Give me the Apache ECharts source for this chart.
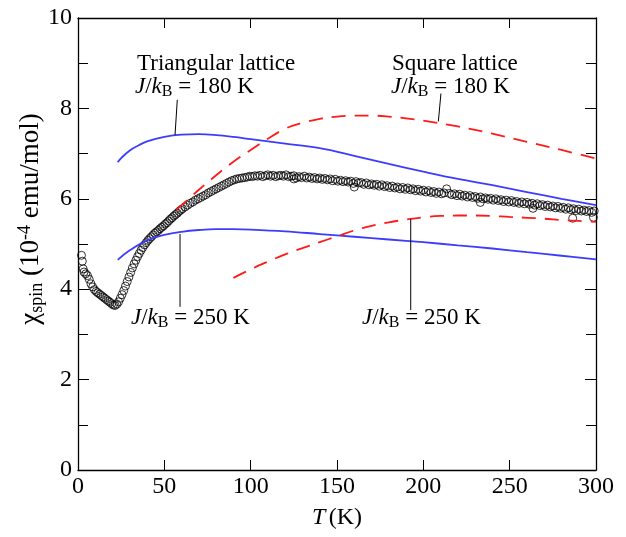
<!DOCTYPE html>
<html><head><meta charset="utf-8">
<script src="https://cdn.jsdelivr.net/npm/echarts@6/dist/echarts.min.js"></script>
<style>html,body{margin:0;padding:0;background:#fff}#c{width:626px;height:537px}</style>
</head><body><div id="c"></div>
<script>
const xTicks = [0, 50, 100, 150, 200, 250, 300];
const yTicks = [0, 2, 4, 6, 8, 10];
// measured chi_spin (T, chi)
const measured = [
[2,4.75],[2.5,4.62],[3,4.45],[3.5,4.38],[4.5,4.34],[5.5,4.3],[6.5,4.22],[7.5,4.12],[8.5,4.05],[9.5,3.99],[10.5,3.95],[11.5,3.92],[12.5,3.89],[13.5,3.86],[14.5,3.83],[15.5,3.8],[16.5,3.77],[17.5,3.74],[18.5,3.71],[19.5,3.68],[20.5,3.65],[21.5,3.64],[22.5,3.67],[23.5,3.72],[24.5,3.8],[25.5,3.88],[26.5,3.97],[27.5,4.07],[28.5,4.17],[29.5,4.27],[30.5,4.37],[31.5,4.47],[32.5,4.56],[33.5,4.64],[34.5,4.72],[35.5,4.79],[36.5,4.86],[37.5,4.92],[38.5,4.98],[39.5,5.03],[40.5,5.08],[41.5,5.12],[42.5,5.16],[43.5,5.2],[44.5,5.24],[45.5,5.27],[46.5,5.3],[47.5,5.34],[48.5,5.37],[49.5,5.4],[50.5,5.44],[51.5,5.47],[52.5,5.51],[53.5,5.55],[54.5,5.58],[55.5,5.62],[56.5,5.65],[57.5,5.68],[58.5,5.72],[59.5,5.75],[60.5,5.78],[62,5.82],[63.5,5.86],[65,5.9],[66.5,5.93],[68,5.97],[69.5,6.0],[71,6.03],[72.5,6.06],[74,6.09],[75.5,6.13],[77,6.16],[78.5,6.19],[80,6.22],[81.5,6.25],[83,6.28],[84.5,6.31],[86,6.34],[87.5,6.37],[89,6.4],[90.5,6.42],[92,6.44],[93.5,6.45],[95,6.46],[96.5,6.47],[98,6.48],[99.5,6.5],[101,6.49],[102.5,6.51],[104,6.5],[105.5,6.52],[107,6.49],[108.5,6.51],[110,6.53],[111.5,6.5],[113,6.52],[114.5,6.49],[116,6.51],[117.5,6.52],[119,6.5],[120.5,6.53],[122,6.49],[123.5,6.5],[125,6.51],[126.5,6.46],[128,6.49],[129.5,6.47],[131,6.5],[132.5,6.46],[134,6.48],[135.5,6.45],[137,6.47],[138.5,6.44],[140,6.46],[141.5,6.43],[143,6.45],[144.5,6.42],[146,6.44],[147.5,6.4],[149,6.43],[150.5,6.39],[152,6.41],[153.5,6.38],[155,6.4],[156.5,6.37],[158,6.39],[159.5,6.34],[161,6.38],[162.5,6.35],[164,6.36],[165.5,6.32],[167,6.35],[168.5,6.31],[170,6.33],[171.5,6.3],[173,6.32],[174.5,6.28],[176,6.31],[177.5,6.27],[179,6.29],[180.5,6.25],[182,6.28],[183.5,6.24],[185,6.26],[186.5,6.22],[188,6.25],[189.5,6.21],[191,6.24],[192.5,6.2],[194,6.22],[195.5,6.18],[197,6.21],[198.5,6.17],[200,6.19],[201.5,6.15],[203,6.18],[204.5,6.14],[206,6.16],[207.5,6.12],[209,6.15],[210.5,6.11],[212,6.13],[213.5,6.22],[215,6.12],[216.5,6.09],[218,6.11],[219.5,6.07],[221,6.1],[222.5,6.06],[224,6.08],[225.5,6.04],[227,6.07],[228.5,6.03],[230,6.05],[231.5,6.01],[233,6.04],[234.5,6.0],[236,6.02],[237.5,5.99],[239,6.01],[240.5,5.97],[242,6.0],[243.5,5.96],[245,5.98],[246.5,5.94],[248,5.97],[249.5,5.93],[251,5.96],[252.5,5.92],[254,5.94],[255.5,5.9],[257,5.93],[258.5,5.89],[260,5.92],[261.5,5.88],[263,5.9],[264.5,5.86],[266,5.89],[267.5,5.85],[269,5.87],[270.5,5.83],[272,5.86],[273.5,5.82],[275,5.84],[276.5,5.8],[278,5.83],[279.5,5.79],[281,5.81],[282.5,5.77],[284,5.8],[285.5,5.76],[287,5.78],[288.5,5.74],[290,5.77],[291.5,5.73],[293,5.75],[294.5,5.72],[296,5.74],[297.5,5.7],[299,5.73],
[233,5.92],[286.5,5.57],[298.5,5.59],[160,6.26],[125,6.44],[263.5,5.79]
];
// triangular lattice, J/kB = 180 K
const tri180 = [[23,6.81],[25,6.9],[30,7.07],[35,7.18],[40,7.27],[50,7.37],[60,7.42],[70,7.43],[80,7.41],[90,7.37],[100,7.32],[120,7.22],[140,7.12],[160,6.95],[180,6.77],[200,6.6],[220,6.44],[240,6.3],[260,6.15],[280,6.0],[300,5.86]];
// triangular lattice, J/kB = 250 K
const tri250 = [[23,4.65],[30,4.86],[40,5.08],[50,5.2],[60,5.27],[70,5.31],[80,5.33],[90,5.33],[100,5.32],[120,5.28],[140,5.22],[160,5.16],[180,5.1],[200,5.04],[220,4.97],[240,4.9],[260,4.82],[280,4.74],[300,4.66]];
// square lattice, J/kB = 180 K
const sq180 = [[57,5.76],[60,5.86],[70,6.2],[80,6.52],[90,6.82],[100,7.08],[110,7.33],[120,7.55],[130,7.68],[140,7.77],[150,7.82],[160,7.84],[170,7.84],[180,7.82],[190,7.78],[200,7.73],[220,7.6],[240,7.44],[260,7.26],[280,7.08],[300,6.89]];
// square lattice, J/kB = 250 K
const sq250 = [[90,4.25],[100,4.44],[110,4.61],[120,4.77],[130,4.91],[140,5.04],[150,5.17],[160,5.3],[170,5.4],[180,5.48],[190,5.54],[200,5.59],[210,5.62],[220,5.63],[230,5.63],[240,5.62],[250,5.6],[260,5.58],[270,5.56],[280,5.53],[290,5.51],[300,5.49]];
// leader lines
const leaders = [
  [[57.5,8.19],[56.2,7.41]],
  [[210.2,8.33],[208.7,7.71]],
  [[59.1,5.22],[59.1,3.61]],
  [[192.7,5.55],[192.7,3.54]]
];

const FF = '"Liberation Serif","DejaVu Serif",serif';
const chart = echarts.init(document.getElementById('c'));
const mkLine = ()=>({onZero:false,lineStyle:{color:'#000',width:1.3}});
const xBase = ()=>({type:'value',min:0,max:300,interval:50,axisLine:mkLine(),splitLine:{show:false},
  axisTick:{inside:true,length:10,lineStyle:{color:'#000',width:1}}});
const yBase = ()=>({type:'value',min:0,max:10,interval:2,axisLine:mkLine(),splitLine:{show:false},
  axisTick:{inside:true,length:11,lineStyle:{color:'#000',width:1}},
  minorTick:{show:true,splitNumber:2,length:10,lineStyle:{color:'#000',width:1}}});

const series = [{
  type:'scatter', data:measured, symbol:'circle', symbolSize:8,
  itemStyle:{color:'rgba(255,255,255,0)',borderColor:'#000',borderWidth:1}, z:2, silent:true
}];
const lineSer = (d,color,dash)=>({type:'line',data:d,smooth:0.4,showSymbol:false,symbol:'none',
  lineStyle:{color:color,width:1.8,type:dash?[14,9]:'solid'},z:3,silent:true});
series.push(lineSer(tri180,'#3c3cff',false));
series.push(lineSer(tri250,'#3c3cff',false));
series.push(lineSer(sq180,'#ff1a1a',true));
series.push(lineSer(sq250,'#ff1a1a',true));
leaders.forEach(l=>series.push({type:'line',data:l,showSymbol:false,symbol:'none',
  lineStyle:{color:'#000',width:1},z:4,silent:true}));

const richJ = {
  i:{fontFamily:FF,fontStyle:'italic',fontSize:23,color:'#000'},
  n:{fontFamily:FF,fontSize:23,color:'#000'},
  s:{fontFamily:FF,fontSize:16,color:'#000',padding:[11,0,0,0]}
};
const txt = (x,y,t)=>({type:'text',left:x,top:y,style:{text:t,rich:richJ,font:'23px '+FF,fill:'#000'},z:10});

chart.setOption({
  animation:false,
  grid:{left:78,right:30,top:18,bottom:67},
  xAxis:[
    Object.assign(xBase(),{position:'bottom',
      axisLabel:{color:'#000',fontFamily:FF,fontSize:24,margin:5},
      name:'{i|T} {n|(K)}',nameLocation:'middle',nameGap:36,
      nameTextStyle:{rich:{i:{fontFamily:FF,fontStyle:'italic',fontSize:24,color:'#000'},n:{fontFamily:FF,fontSize:24,color:'#000'}}}}),
    Object.assign(xBase(),{position:'top',axisLabel:{show:false}})
  ],
  yAxis:[
    Object.assign(yBase(),{position:'left',
      axisLabel:{color:'#000',fontFamily:FF,fontSize:24,margin:6}}),
    Object.assign(yBase(),{position:'right',axisLabel:{show:false}})
  ],
  series:series,
  graphic:[
    {type:'text',x:31,y:219,rotation:Math.PI/2,z:10,
     style:{text:'{n|χ}{s|spin}{n| (10}{p|-4}{n| emu/mol)}',align:'center',verticalAlign:'middle',
      rich:{
        n:{fontFamily:FF,fontSize:27,color:'#000'},
        s:{fontFamily:FF,fontSize:18,color:'#000',padding:[12,0,0,0]},
        p:{fontFamily:FF,fontSize:18,color:'#000',padding:[0,0,12,0]}}}},
    txt(137,52,'{n|Triangular lattice}'),
    txt(135,75,'{i|J}{n|/}{i|k}{s|B}{n| = 180 K}'),
    txt(392,52,'{n|Square lattice}'),
    txt(391,75,'{i|J}{n|/}{i|k}{s|B}{n| = 180 K}'),
    txt(131,306,'{i|J}{n|/}{i|k}{s|B}{n| = 250 K}'),
    txt(362,306,'{i|J}{n|/}{i|k}{s|B}{n| = 250 K}')
  ]
});
</script></body></html>
